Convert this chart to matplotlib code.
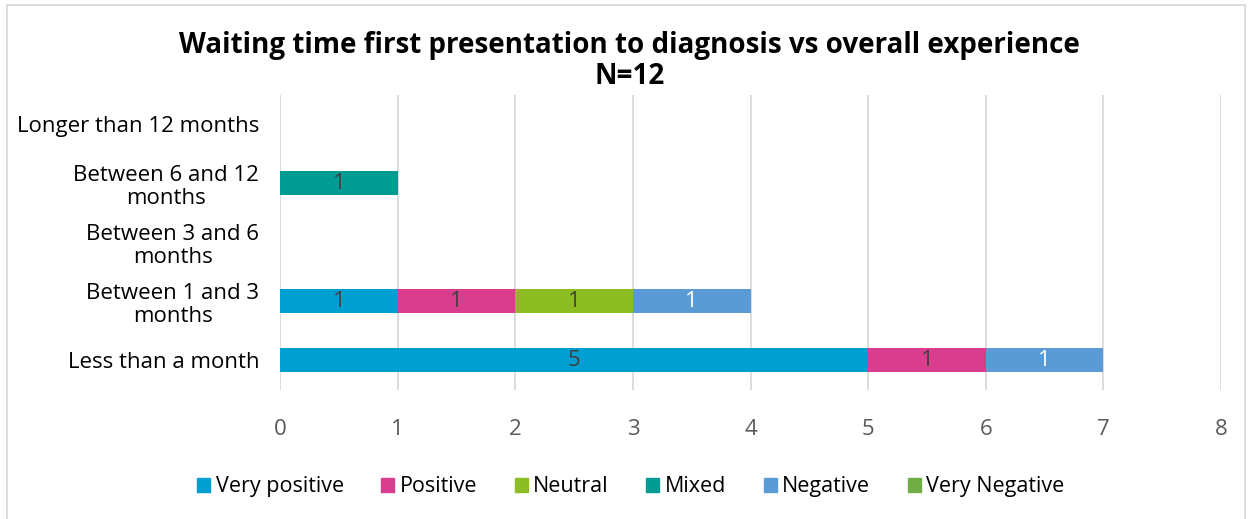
import matplotlib
matplotlib.use("Agg")
import matplotlib.pyplot as plt
from matplotlib.patches import Rectangle
import numpy as np

plt.rcParams['font.family'] = ['Open Sans', 'DejaVu Sans']

categories = ["Less than a month", "Between 1 and 3\nmonths", "Between 3 and 6\nmonths",
              "Between 6 and 12\nmonths", "Longer than 12 months"]
series = ["Very positive", "Positive", "Neutral", "Mixed", "Negative", "Very Negative"]
values = {
    "Very positive": [5, 1, 0, 0, 0],
    "Positive":      [1, 1, 0, 0, 0],
    "Neutral":       [0, 1, 0, 0, 0],
    "Mixed":         [0, 0, 0, 1, 0],
    "Negative":      [1, 1, 0, 0, 0],
    "Very Negative": [0, 0, 0, 0, 0],
}
colors = {
    "Very positive": "#009FD1",
    "Positive": "#DB3D8E",
    "Neutral": "#8CBD22",
    "Mixed": "#009C94",
    "Negative": "#5B9BD5",
    "Very Negative": "#70AD47",
}
label_colors = {
    "Very positive": "#404040",
    "Positive": "#404040",
    "Neutral": "#404040",
    "Mixed": "#404040",
    "Negative": "#FFFFFF",
    "Very Negative": "#404040",
}
title = "Waiting time first presentation to diagnosis vs overall experience\nN=12"

fig = plt.figure(figsize=(12.49, 5.19), dpi=100)
ax = fig.add_axes([0.2242, 0.2495, 0.9776 - 0.2242, 0.8179 - 0.2495])

y = np.arange(len(categories))
left = np.zeros(len(categories))
for s in series:
    v = np.array(values[s], dtype=float)
    ax.barh(y, v, left=left, height=0.41, color=colors[s], label=s, zorder=3)
    for i, val in enumerate(v):
        if val > 0:
            ax.text(left[i] + val / 2, y[i], f"{int(val)}", ha="center", va="center",
                    fontsize=16, color=label_colors[s], zorder=4)
    left += v

ax.set_xlim(0, 8)
ax.set_ylim(-0.5, len(categories) - 0.5)
ax.set_xticks(range(0, 9))
ax.set_yticks(y)
ax.set_yticklabels(categories, fontsize=16, color="#000000", linespacing=1.15)
ax.tick_params(axis="x", labelsize=16, labelcolor="#595959", length=0, pad=21)
ax.tick_params(axis="y", length=0, pad=15)
for t in ax.get_yticklabels():
    t.set_horizontalalignment("right")
    t.set_multialignment("center")
ax.grid(axis="x", color="#D9D9D9", linewidth=1.3, zorder=0)
for sp in ax.spines.values():
    sp.set_visible(False)

fig.text(0.504, 0.882, title, ha="center", va="center", fontsize=20,
         fontweight="bold", color="#000000", linespacing=1.1)

handles = [Rectangle((0, 0), 1, 1, color=colors[s]) for s in series]
fig.legend(handles, series, loc="center", bbox_to_anchor=(0.505, 0.062), ncol=6,
           frameon=False, fontsize=15.5, handlelength=0.6, handleheight=0.6,
           handletextpad=0.25, columnspacing=1.75)

border = Rectangle((0.0056, -0.05), 0.9912, 1.04, transform=fig.transFigure,
                   fill=False, edgecolor="#D9D9D9", linewidth=1.3)
fig.add_artist(border)

fig.savefig("out.png", dpi=100, facecolor="white")
